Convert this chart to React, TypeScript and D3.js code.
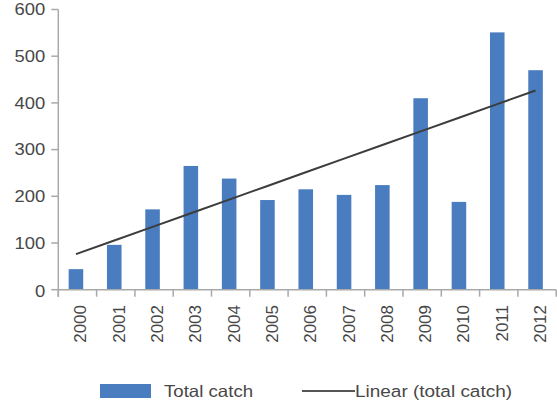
import React from "react";
import * as d3 from "d3";

const years = ["2000","2001","2002","2003","2004","2005","2006","2007","2008","2009","2010","2011","2012"];
const totalCatch = [44, 96, 172, 265, 238, 192, 215, 203, 224, 410, 188, 551, 470];
const yTicks = [0, 100, 200, 300, 400, 500, 600];
const legendLabels = ["Total catch", "Linear (total catch)"];

const W = 557, H = 400;
const left = 58.3, right = 556.2, top = 9.5, bottom = 289.7;
const barColor = "#4a7cc0";
const axisColor = "#a9a9a9";
const textColor = "#474747";
const font = "'Liberation Sans', Arial, sans-serif";

export default function App() {
  const x = d3.scaleBand<string>().domain(years).range([left, right]).paddingInner(0.62).paddingOuter(0.31);
  const xb = d3.scaleBand<string>().domain(years).range([left, right]);
  const y = d3.scaleLinear().domain([0, 600]).range([bottom, top]);

  // linear regression
  const n = totalCatch.length;
  const idx = d3.range(n);
  const mx = d3.mean(idx)!;
  const my = d3.mean(totalCatch)!;
  const slope = d3.sum(idx, i => (i - mx) * (totalCatch[i] - my)) / d3.sum(idx, i => (i - mx) ** 2);
  const intercept = my - slope * mx;
  const trend = idx.map(i => [xb(years[i])! + xb.bandwidth() / 2 - 1.5, y(intercept + slope * i)] as [number, number]);
  const line = d3.line();

  const boundaries = years.map(yr => xb(yr)!).concat([right]);

  return (
    <svg width={W} height={H} style={{ position: "absolute", left: 0, top: 0 }} fontFamily={font}>
      <rect width={W} height={H} fill="#fff" />
      {years.map((yr, i) => (
        <rect key={yr} x={x(yr)! - 1.5} y={y(totalCatch[i])} width={x.bandwidth()} height={y(0) - y(totalCatch[i])} fill={barColor} />
      ))}
      <path d={line(trend)!} stroke="#3c3c3c" strokeWidth={2} fill="none" />
      {/* axes */}
      <line x1={left} x2={left} y1={top} y2={bottom + 7} stroke={axisColor} strokeWidth={1.5} />
      <line x1={left} x2={right} y1={bottom} y2={bottom} stroke={axisColor} strokeWidth={1.5} />
      {yTicks.map(t => (
        <g key={t}>
          <line x1={left - 7} x2={left} y1={y(t)} y2={y(t)} stroke={axisColor} strokeWidth={1.5} />
          <text transform={`translate(${left - 13},${y(t) + (t === 0 ? 2 : 0)}) scale(1.15,1)`} textAnchor="end" dy="0.36em" fontSize={16} fill={textColor}>{t}</text>
        </g>
      ))}
      {boundaries.map((b, i) => (
        <line key={i} x1={b} x2={b} y1={bottom} y2={bottom + 7} stroke={axisColor} strokeWidth={1.5} />
      ))}
      {years.map(yr => (
        <text key={yr} transform={`translate(${xb(yr)! + xb.bandwidth() / 2 + 3},305) rotate(-90)`} textAnchor="end" dy="0.35em" fontSize={17} fill={textColor}>{yr}</text>
      ))}
      {/* legend */}
      <rect x={100} y={384} width={51} height={14} fill={barColor} />
      <text transform="translate(164,396.5) scale(1.13,1)" fontSize={16.5} fill={textColor}>{legendLabels[0]}</text>
      <line x1={302} x2={355} y1={391} y2={391} stroke="#555" strokeWidth={2} />
      <text transform="translate(355,396.5) scale(1.15,1)" fontSize={16.5} fill={textColor}>{legendLabels[1]}</text>
    </svg>
  );
}
